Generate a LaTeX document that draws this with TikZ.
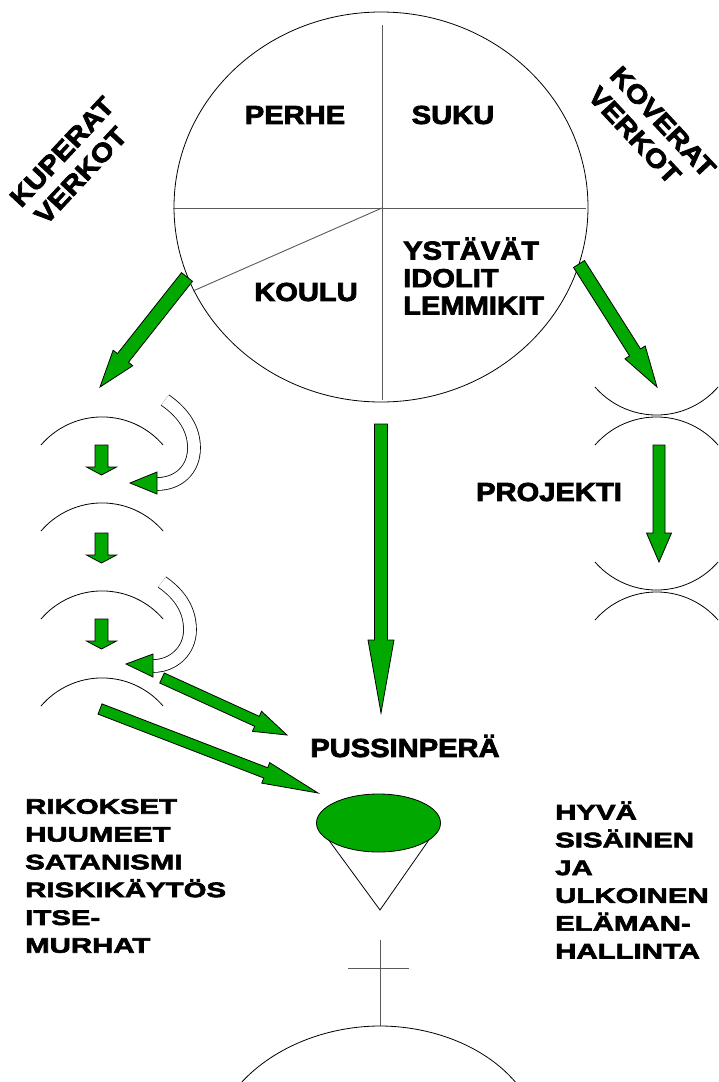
\documentclass[tikz,border=0pt]{standalone}
\usepackage{fontspec}
\newfontfamily\kuvafontti{Liberation Sans}[FakeStretch=1.12,BoldFeatures={FakeBold=3}]
\newfontfamily\listafontti{Liberation Sans}[FakeStretch=1.4,BoldFeatures={FakeBold=3}]
\usetikzlibrary{calc}
\definecolor{kuvaVihrea}{RGB}{0,168,0}
\definecolor{kuvaViiva}{RGB}{90,90,90}
\tikzset{
  otsikko/.style={font=\kuvafontti\bfseries\fontsize{26}{30}\selectfont, inner sep=0pt, align=left},
  lista/.style={font=\listafontti\bfseries\fontsize{21}{27.8}\selectfont, inner sep=0pt, align=left},
  nuolikuva/.style={fill=kuvaVihrea, draw=black, line width=0.8pt, line join=miter},
  kaari/.style={draw=black, line width=0.8pt},
  jako/.style={draw=kuvaViiva, line width=0.9pt},
  kierto/.style={draw=black, line width=0.8pt, double=white, double distance=12pt}
}
% leveä nuoli: alku, kärki, puoli varresta, puoli kärjestä, kärjen pituus
\newcommand{\nuoli}[5]{%
  \coordinate (n-a) at #1;
  \coordinate (n-b) at #2;
  \coordinate (n-c) at ($(n-b)!#5!(n-a)$);
  \draw[nuolikuva] ($(n-a)!#3!90:(n-b)$) -- ($(n-c)!#3!90:(n-b)$) -- ($(n-c)!#4!90:(n-b)$)
    -- (n-b) -- ($(n-c)!#4!-90:(n-b)$) -- ($(n-c)!#3!-90:(n-b)$) -- ($(n-a)!#3!-90:(n-b)$) -- cycle;
}

\begin{document}
\begin{tikzpicture}[x=1pt, y=-1pt]
  \useasboundingbox (0,0) rectangle (719,1082);
  \fill[white] (0,0) rectangle (719,1082);
  \clip (0,0) rectangle (719,1082);

  % ympyrä
  \coordinate (keski) at (382,208);
  \draw[kaari] (381,207) ellipse [x radius=207pt, y radius=195pt];
  \draw[jako] (382,25) -- (382,400);
  \draw[jako] (173,208) -- (586,208);
  \draw[jako] (keski) -- (193,291);
  \node[otsikko] (perhe) at (295,115) {PERHE};
  \node[otsikko] (suku) at (453,115) {SUKU};
  \node[otsikko] (koulu) at (306,292) {KOULU};
  \node[otsikko, anchor=west, font=\kuvafontti\bfseries\fontsize{26}{27.5}\selectfont] (ystavat) at (403,276) {YSTÄVÄT\\IDOLIT\\LEMMIKIT};

  \node[otsikko, rotate=47] (kuperat) at (73,162) {KUPERAT\\\hspace{4pt}VERKOT};
  \node[otsikko, rotate=-47] (koverat) at (652,132) {KOVERAT\\VERKOT};

  % vasen sarake
  \foreach \y in {417,503,591,678}
    \draw[kaari] (41,\y+28) arc[start angle=139.4, end angle=40.6, radius=80.4pt];
  \foreach \y in {445,533,619} {
    \coordinate (p-a) at (101.5,\y);
    \coordinate (p-b) at (101.5,\y+30);
    \nuoli{(p-a)}{(p-b)}{6.5pt}{15pt}{8pt}
  }
  \draw[kierto] (165,400) .. controls (185,414) and (194,430) .. (194,448)
    .. controls (194,470) and (178,484) .. (157,484);
  \draw[nuolikuva] (157,472) -- (130,483) -- (157,494) -- cycle;
  \draw[kierto] (162,582) .. controls (182,596) and (190,612) .. (190,630)
    .. controls (190,650) and (174,666) .. (153,666);
  \draw[nuolikuva] (153,654) -- (126,664) -- (153,677) -- cycle;

  % oikea sarake
  \foreach \y in {387,562}
    \draw[kaari] (595,\y) arc[start angle=221, end angle=319, radius=81.5pt];
  \foreach \y in {445,620}
    \draw[kaari] (595,\y) arc[start angle=139, end angle=41, radius=81.5pt];
  \node[otsikko] (projekti) at (549,492) {PROJEKTI};

  % nuolet
  \coordinate (vasen-alku) at (187,277);
  \coordinate (vasen-karki) at (100,387);
  \coordinate (oikea-alku) at (579,264);
  \coordinate (oikea-karki) at (657,387);
  \coordinate (keski-alku) at (381,424);
  \coordinate (keski-karki) at (381,713);
  \coordinate (projekti-alku) at (659,445);
  \coordinate (projekti-karki) at (659,562);
  \coordinate (vino1-alku) at (162,678);
  \coordinate (vino1-karki) at (287,735);
  \coordinate (vino2-alku) at (100,709);
  \coordinate (vino2-karki) at (318,793);
  \nuoli{(vasen-alku)}{(vasen-karki)}{7pt}{12.5pt}{37pt}
  \nuoli{(oikea-alku)}{(oikea-karki)}{6.5pt}{12pt}{41pt}
  \nuoli{(keski-alku)}{(keski-karki)}{6.5pt}{13pt}{73pt}
  \nuoli{(projekti-alku)}{(projekti-karki)}{6pt}{12.5pt}{29pt}
  \nuoli{(vino1-alku)}{(vino1-karki)}{5.5pt}{11pt}{33pt}
  \nuoli{(vino2-alku)}{(vino2-karki)}{5.5pt}{11pt}{56pt}

  % pussinperä
  \node[otsikko] (pussinpera) at (405,746) {PUSSINPERÄ};
  \draw[kaari] (317,824) -- (380,910) -- (440,824);
  \draw[nuolikuva] (378.5,823) ellipse [x radius=62pt, y radius=29pt];
  \draw[jako] (380,940) -- (380,1026);
  \draw[jako] (348,968) -- (409,968);
  \draw[kaari] (240,1084) .. controls (275,1045) and (330,1026) .. (380,1026)
    .. controls (430,1026) and (485,1045) .. (517,1084);

  \node[lista, anchor=west] (riskit) at (25,876) {RIKOKSET\\HUUMEET\\SATANISMI\\RISKIKÄYTÖS\\ITSE-\\MURHAT};
  \node[lista, anchor=west] (hallinta) at (555,880) {HYVÄ\\SISÄINEN\\JA\\ULKOINEN\\ELÄMAN-\\HALLINTA};
\end{tikzpicture}
\end{document}
